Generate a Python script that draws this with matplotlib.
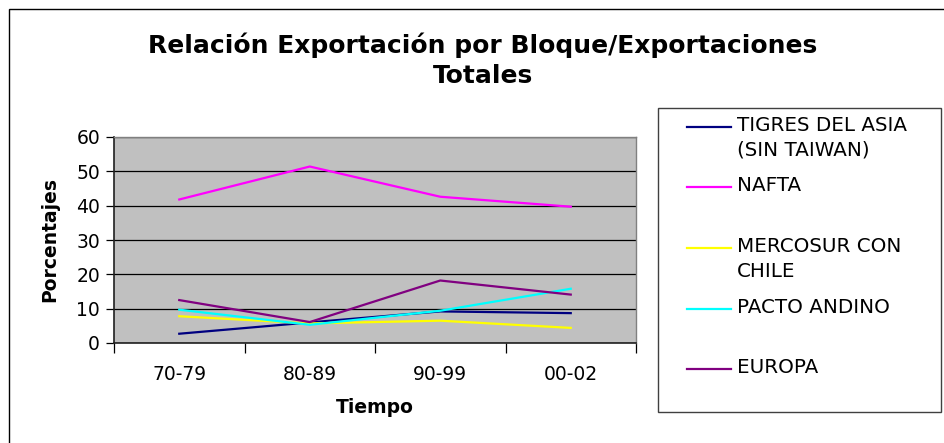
import numpy as np
import matplotlib
matplotlib.use("Agg")
import matplotlib.pyplot as plt
from matplotlib.lines import Line2D
from matplotlib.patches import Rectangle

# Datos
periodos = ["70-79", "80-89", "90-99", "00-02"]
tigres = [2.7, 6.0, 9.2, 8.7]
nafta = [41.8, 51.4, 42.6, 39.7]
mercosur = [7.8, 5.7, 6.5, 4.4]
pacto = [9.7, 5.3, 9.4, 15.8]
europa = [12.5, 6.1, 18.2, 14.1]

series = [
    ("TIGRES DEL ASIA\n(SIN TAIWAN)", tigres, "#000080"),
    ("NAFTA", nafta, "#FF00FF"),
    ("MERCOSUR CON\nCHILE", mercosur, "#FFFF00"),
    ("PACTO ANDINO", pacto, "#00FFFF"),
    ("EUROPA", europa, "#800080"),
]

W, H = 944, 443
fig = plt.figure(figsize=(W / 100, H / 100), dpi=100)

# Marco exterior
fig.add_artist(Rectangle((9 / W, -0.01), 1.0, (H - 9) / H + 0.01, transform=fig.transFigure,
                         fill=False, edgecolor="black", linewidth=1.0))

ax = fig.add_axes([114 / W, (H - 343) / H, (636 - 114) / W, (343 - 137) / H])
ax.set_facecolor("#C0C0C0")

x = np.arange(len(periodos))
for label, vals, color in series:
    ax.plot(x, vals, color=color, linewidth=1.6)

ax.set_xlim(-0.5, len(periodos) - 0.5)
ax.set_ylim(0, 60)
ax.set_yticks(range(0, 61, 10))
ax.yaxis.grid(True, color="black", linewidth=0.9)
ax.set_axisbelow(True)

ax.set_xticks(x)
ax.set_xticklabels(periodos)
ax.set_xticks(np.arange(-0.5, len(periodos)), minor=True)
ax.tick_params(axis="x", which="major", length=0, pad=16, labelsize=13.5)
ax.tick_params(axis="x", which="minor", length=7, width=0.9, color="black")
ax.tick_params(axis="y", length=6, width=0.9, labelsize=13.5, pad=4)

for side in ["top", "right"]:
    ax.spines[side].set_color("#808080")
    ax.spines[side].set_linewidth(1.0)
for side in ["left", "bottom"]:
    ax.spines[side].set_color("#202020")
    ax.spines[side].set_linewidth(1.2)

ax.set_xlabel("Tiempo", fontsize=13.5, fontweight="bold", labelpad=10)
ax.set_ylabel("Porcentajes", fontsize=13.5, fontweight="bold", labelpad=12)

fig.text(483 / W, 1 - 45 / H, "Relación Exportación por Bloque/Exportaciones",
         ha="center", va="center", fontsize=18, fontweight="bold")
fig.text(483 / W, 1 - 76 / H, "Totales",
         ha="center", va="center", fontsize=18, fontweight="bold")

# Leyenda
fig.add_artist(Rectangle((658 / W, 1 - 412 / H), (941 - 658) / W, (412 - 108) / H,
                         transform=fig.transFigure, fill=False,
                         edgecolor="#404040", linewidth=1.0))
ys = [127, 187, 248, 309, 369]
for (label, vals, color), yy in zip(series, ys):
    yf = 1 - yy / H
    fig.add_artist(Line2D([687 / W, 731 / W], [yf, yf], transform=fig.transFigure,
                          color=color, linewidth=1.6))
    fig.text(737 / W, yf + 11 / H, label, ha="left", va="top", fontsize=14.3,
             linespacing=1.4)

fig.savefig("out.png", dpi=100)
